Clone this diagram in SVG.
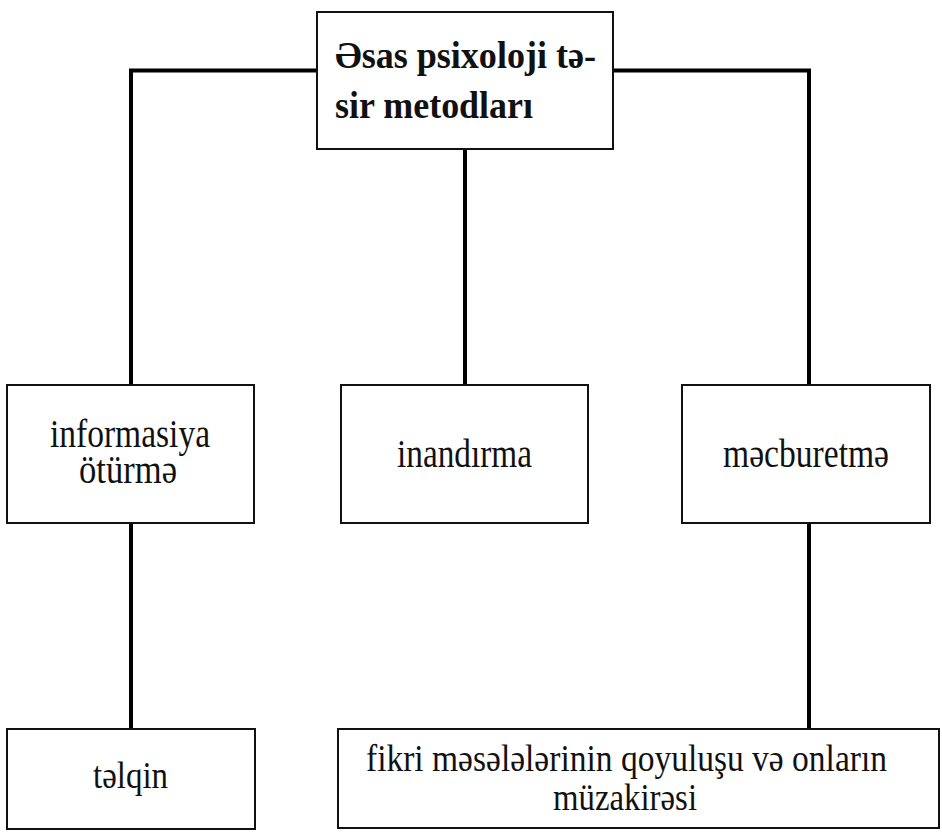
<svg xmlns="http://www.w3.org/2000/svg" width="942" height="832" viewBox="0 0 942 832">
<style>
.box{fill:#fff;stroke:#111;stroke-width:2}
.conn{fill:none;stroke:#000;stroke-width:4;stroke-linecap:butt;stroke-linejoin:miter}
</style>
<rect width="942" height="832" fill="#fff"/>
<g id="connectors">
<path class="conn" d="M317 70.5 H131 V385"/>
<path class="conn" d="M613 70.5 H809 V385"/>
<path class="conn" d="M465 149 V384"/>
<path class="conn" d="M131 523 V729"/>
<path class="conn" d="M809 523 V729"/>
</g>
<g font-family="'Liberation Serif', 'Times New Roman', serif" fill="#111">
<g id="root">
<rect class="box" x="317" y="12" width="296" height="137"/>
<text font-weight="bold" font-size="37" x="335" y="68" textLength="261" lengthAdjust="spacingAndGlyphs">Əsas psixoloji tə-</text>
<text font-weight="bold" font-size="37" x="335" y="118" textLength="198" lengthAdjust="spacingAndGlyphs">sir metodları</text>
</g>
<g id="informasiya">
<rect class="box" x="7" y="385" width="247" height="138"/>
<text font-size="39" x="50" y="447" textLength="160" lengthAdjust="spacingAndGlyphs">informasiya</text>
<text font-size="39" x="79" y="483" textLength="98" lengthAdjust="spacingAndGlyphs">ötürmə</text>
</g>
<g id="inandirma">
<rect class="box" x="341" y="385" width="247" height="138"/>
<text font-size="39" x="397" y="467" textLength="135" lengthAdjust="spacingAndGlyphs">inandırma</text>
</g>
<g id="mecburetme">
<rect class="box" x="682" y="385" width="248" height="138"/>
<text font-size="39" x="723" y="467" textLength="166" lengthAdjust="spacingAndGlyphs">məcburetmə</text>
</g>
<g id="telqin">
<rect class="box" x="7" y="729" width="248" height="100"/>
<text font-size="37" x="93" y="788" textLength="75" lengthAdjust="spacingAndGlyphs">təlqin</text>
</g>
<g id="fikri">
<rect class="box" x="338" y="729" width="601" height="99"/>
<text font-size="38" x="366" y="771" textLength="521" lengthAdjust="spacingAndGlyphs">fikri məsələlərinin qoyuluşu və onların</text>
<text font-size="38" x="553" y="810" textLength="144" lengthAdjust="spacingAndGlyphs">müzakirəsi</text>
</g>
</g>
</svg>
